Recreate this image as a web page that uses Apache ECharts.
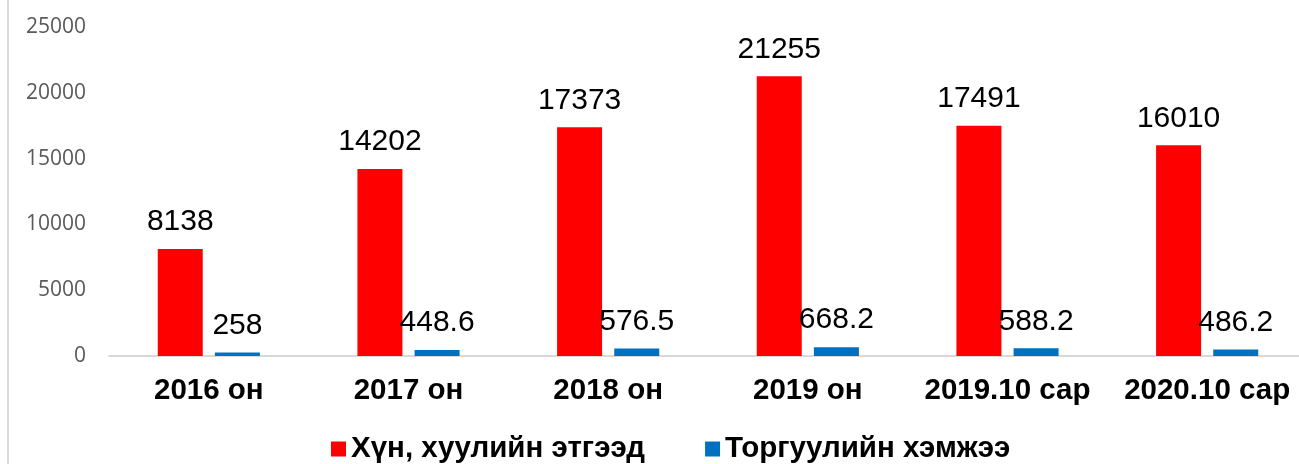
<!DOCTYPE html>
<html>
<head>
<meta charset="utf-8">
<script src="https://cdn.jsdelivr.net/npm/echarts@6/dist/echarts.min.js"></script>
<style>
  html, body { margin: 0; padding: 0; background: #fff; overflow: hidden; }
  #main { width: 1310px; height: 464px; }
</style>
</head>
<body>
<div id="main"></div>
<script>
var categories = ['2016 он', '2017 он', '2018 он', '2019 он', '2019.10 сар', '2020.10 сар'];
var personValues = [8138, 14202, 17373, 21255, 17491, 16010];
var fineValues = [258, 448.6, 576.5, 668.2, 588.2, 486.2];
var seriesNames = ['Хүн, хуулийн этгээд', 'Торгуулийн хэмжээ'];

var myChart = echarts.init(document.getElementById('main'));

var labelStyle = {
    show: true,
    position: 'top',
    distance: 12,
    fontFamily: 'Liberation Sans, Arial',
    fontSize: 30,
    color: '#000'
};

var option = {
    animation: false,
    graphic: [{
        type: 'line',
        shape: { x1: 8, y1: 0, x2: 8, y2: 464 },
        style: { stroke: '#d9d9d9', lineWidth: 2 }
    }],
    grid: {
        left: 109,
        right: 3,
        top: 27,
        bottom: 108
    },
    legend: {
        bottom: -5,
        left: 326,
        itemWidth: 15,
        itemHeight: 15,
        itemGap: 60,
        icon: 'rect',
        textStyle: {
            fontFamily: 'Liberation Sans, Arial',
            fontWeight: 'bold',
            fontSize: 29.5,
            color: '#000'
        },
        data: seriesNames
    },
    xAxis: {
        type: 'category',
        data: categories,
        axisLine: { lineStyle: { color: '#d9d9d9', width: 2 } },
        axisTick: { show: false },
        axisLabel: {
            interval: 0,
            margin: 20,
            fontFamily: 'Liberation Sans, Arial',
            fontWeight: 'bold',
            fontSize: 29.5,
            color: '#000'
        }
    },
    yAxis: {
        type: 'value',
        min: 0,
        max: 25000,
        interval: 5000,
        axisLine: { show: false },
        axisTick: { show: false },
        splitLine: { show: false },
        axisLabel: {
            margin: 23,
            fontFamily: 'Open Sans',
            fontSize: 21,
            color: '#595959',
            formatter: function (v) { return String(v); }
        }
    },
    series: [{
        name: seriesNames[0],
        type: 'bar',
        data: personValues,
        barWidth: 45,
        barGap: '27%',
        itemStyle: { color: '#ff0000' },
        label: labelStyle
    }, {
        name: seriesNames[1],
        type: 'bar',
        data: fineValues,
        barWidth: 45,
        itemStyle: { color: '#0070c0' },
        label: labelStyle
    }]
};

myChart.setOption(option);
</script>
</body>
</html>
